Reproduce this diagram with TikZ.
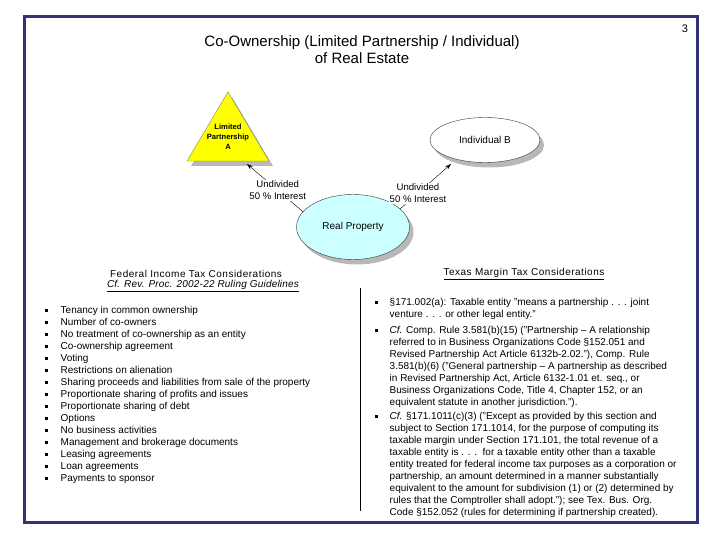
\documentclass[tikz,border=0pt]{standalone}
\usepackage{fontspec}
\setmainfont{Liberation Sans}
\usepackage{tikz}
\usetikzlibrary{arrows.meta,shadows,shapes.geometric}
\definecolor{frame}{RGB}{51,51,119}
\definecolor{lpyellow}{RGB}{255,255,0}
\definecolor{rpcyan}{RGB}{204,255,255}
\newcommand{\sqb}{\rule[1.8pt]{3pt}{3pt}}
\newcommand{\body}{\fontsize{10}{12}\selectfont}

\begin{document}
\begin{tikzpicture}[x=1pt, y=-1pt, font=\body,
  shade/.style={drop shadow={shadow xshift=4pt, shadow yshift=-5pt, fill=black!28, opacity=1}},
  blob/.style={ellipse, draw=black!80, thin, fill=white, shade, font=\fontsize{10}{12}\selectfont},
  lbl/.style={fill=white, inner sep=1pt, align=center, font=\fontsize{9.6}{12}\selectfont},
  head/.style={font=\fontsize{10}{12}\selectfont\addfontfeatures{LetterSpace=5}},
  arr/.style={-{Stealth[length=6pt, width=4pt]}, thin, black}]
\useasboundingbox (0,0) rectangle (720,540);
\draw[frame, line width=3pt] (24,17) rectangle (697,522);
\node (pg) at (685,29) {\fontsize{11}{12}\selectfont 3};
\node[align=center, font=\fontsize{15}{17}\selectfont] (title) at (362,50) {Co-Ownership (Limited Partnership / Individual)\\of Real Estate};

% diagram
\fill[lpyellow, draw=black!50, shade] (228,92) -- (269,161) -- (187,161) -- cycle;
\node[align=center, font=\fontsize{7.6}{10}\selectfont\bfseries] (lp) at (228,137) {Limited\\Partnership\\A};
\coordinate (lptip) at (247,164);
\node[blob, minimum width=110pt, minimum height=45pt] (ib) at (485,140) {Individual B};
\coordinate (ibtip) at (451,164);
\node[blob, fill=rpcyan, minimum width=113pt, minimum height=65pt] (rp) at (353,227) {Real Property};
\draw[arr] (rp.163) -- (lptip) node[lbl, pos=0.45] (lbA) {Undivided\\50 \% Interest};
\draw[arr] (rp.21) -- (ibtip) node[lbl, pos=0.35] (lbB) {Undivided\\50 \% Interest};

% federal column
\node[head] (fedhead) at (196,274) {Federal Income Tax Considerations};
\node[font=\fontsize{10}{12}\selectfont\addfontfeatures{LetterSpace=2}] (fedsub) at (203,286) {\underline{\itshape Cf. Rev. Proc. 2002-22 Ruling Guidelines}};
\node[anchor=base west, inner sep=0pt] (fedlist) at (44.5,313.5) {\begin{tabular}[t]{@{}l@{\hspace{13pt}}l@{}}
\sqb & Tenancy in common ownership\\
\sqb & Number of co-owners\\
\sqb & No treatment of co-ownership as an entity\\
\sqb & Co-ownership agreement\\
\sqb & Voting\\
\sqb & Restrictions on alienation\\
\sqb & Sharing proceeds and liabilities from sale of the property\\
\sqb & Proportionate sharing of profits and issues\\
\sqb & Proportionate sharing of debt\\
\sqb & Options\\
\sqb & No business activities\\
\sqb & Management and brokerage documents\\
\sqb & Leasing agreements\\
\sqb & Loan agreements\\
\sqb & Payments to sponsor
\end{tabular}};

% texas column
\node[head] (txhead) at (524,274) {\underline{Texas Margin Tax Considerations}};
\coordinate (septop) at (360,288);
\coordinate (sepbot) at (360,511);
\draw[black, thick] (septop) -- (sepbot);
\node[anchor=base west, inner sep=0pt] (txlist) at (374.5,305.5) {\begin{tabular}[t]{@{}l@{\hspace{12pt}}l@{}}
\sqb & §171.002(a): Taxable entity "means a partnership . . . joint\\
 & venture . . . or other legal entity."\\[4pt]
\sqb & \textit{Cf.} Comp. Rule 3.581(b)(15) ("Partnership -- A relationship\\
 & referred to in Business Organizations Code §152.051 and\\
 & Revised Partnership Act Article 6132b-2.02."), Comp. Rule\\
 & 3.581(b)(6) ("General partnership -- A partnership as described\\
 & in Revised Partnership Act, Article 6132-1.01 et. seq., or\\
 & Business Organizations Code, Title 4, Chapter 152, or an\\
 & equivalent statute in another jurisdiction.").\\[2pt]
\sqb & \textit{Cf.} §171.1011(c)(3) ("Except as provided by this section and\\
 & subject to Section 171.1014, for the purpose of computing its\\
 & taxable margin under Section 171.101, the total revenue of a\\
 & taxable entity is . . .\ \ for a taxable entity other than a taxable\\
 & entity treated for federal income tax purposes as a corporation or\\
 & partnership, an amount determined in a manner substantially\\
 & equivalent to the amount for subdivision (1) or (2) determined by\\
 & rules that the Comptroller shall adopt."); see Tex. Bus. Org.\\
 & Code §152.052 (rules for determining if partnership created).
\end{tabular}};
\end{tikzpicture}
\end{document}
